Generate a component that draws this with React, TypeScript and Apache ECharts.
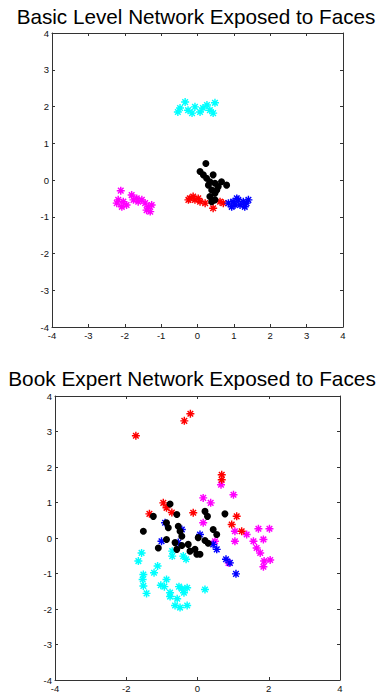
import React, { useEffect, useRef } from "react";
import * as echarts from "echarts";

// ---- Data: Basic Level Network Exposed to Faces ----
const basicCyan: [number, number][] = [
  [-0.48, 1.96], [-0.34, 2.12], [-0.26, 1.9], [-0.15, 1.82], [-0.07, 1.99], [0.07, 1.85],
  [0.15, 1.96], [0.26, 2.04], [0.34, 1.9], [0.43, 1.82], [0.48, 2.1], [-0.54, 1.85],
];
const basicMagenta: [number, number][] = [
  [-2.11, -0.29], [-2.18, -0.54], [-2.04, -0.59], [-2.08, -0.73], [-1.95, -0.68], [-1.81, -0.41],
  [-1.76, -0.54], [-1.63, -0.59], [-1.53, -0.54], [-1.44, -0.63], [-1.35, -0.73], [-1.26, -0.68],
  [-1.4, -0.82], [-1.3, -0.86], [-2.22, -0.63], [-1.67, -0.5],
];
const basicRed: [number, number][] = [
  [-0.21, -0.5], [-0.07, -0.54], [0.07, -0.59], [0.21, -0.63], [-0.12, -0.45], [-0.25, -0.54],
  [0.43, -0.77], [0.62, -0.59], [0.71, -0.63], [0.02, -0.5],
];
const basicBlue: [number, number][] = [
  [0.85, -0.63], [0.98, -0.59], [1.12, -0.54], [1.26, -0.59], [1.35, -0.63], [1.17, -0.68],
  [1.03, -0.68], [0.94, -0.73], [1.3, -0.73], [1.4, -0.54], [1.08, -0.5],
];
const basicBlack: [number, number][] = [
  [0.23, 0.45], [0.07, 0.23], [0.16, 0.14], [0.25, 0.05], [0.43, 0.14], [0.34, -0.05],
  [0.48, -0.09], [0.57, -0.18], [0.8, -0.14], [0.66, -0.05], [0.39, -0.27], [0.48, -0.36],
  [0.34, -0.45], [0.48, -0.54], [0.39, -0.59], [0.3, -0.14], [0.53, -0.27],
];

// ---- Data: Book Expert Network Exposed to Faces ----
const bookRed: [number, number][] = [
  [-1.73, 2.88], [-0.37, 3.3], [-0.2, 3.5], [0.68, 1.78], [0.68, 1.64], [-0.96, 0.99],
  [-0.87, 0.85], [-0.72, 0.72], [-1.35, 0.68], [-0.12, 0.71], [1.1, 0.61], [0.96, 0.38], [1.24, 0.19],
];
const bookMagenta: [number, number][] = [
  [0.66, 1.5], [0.16, 1.13], [0.37, 0.99], [1.01, 1.22], [0.16, 0.43], [1.05, 0.19], [1.38, 0.1],
  [1.71, 0.26], [2.02, 0.26], [1.85, -0.04], [1.57, -0.09], [1.05, -0.09], [0.49, -0.09],
  [1.66, -0.28], [1.76, -0.42], [1.87, -0.65], [2.04, -0.62], [1.85, -0.81], [0.87, -0.7],
];
const bookBlue: [number, number][] = [
  [-0.91, 0.43], [-0.44, 0.24], [-1.01, -0.09], [-0.54, -0.13], [0.07, 0.1], [0.44, -0.18],
  [0.54, -0.32], [0.8, -0.6], [0.91, -0.7], [1.08, -1.01],
];
const bookCyan: [number, number][] = [
  [-1.57, -0.42], [-1.66, -0.65], [-0.71, -0.37], [-0.71, -0.51], [-0.4, -0.51], [-0.32, -0.6],
  [-1.12, -0.79], [-1.52, -1.03], [-1.54, -1.17], [-1.22, -0.98], [-0.87, -1.17], [-1.52, -1.35],
  [-1.43, -1.56], [-1.03, -1.33], [-0.93, -1.37], [-0.52, -1.37], [-0.44, -1.43], [-0.29, -1.4],
  [-0.38, -1.54], [-0.77, -1.54], [-0.77, -1.65], [-0.57, -1.71], [0.21, -1.45], [-0.63, -1.9],
  [-0.49, -1.96], [-0.29, -1.9],
];
const bookBlack: [number, number][] = [
  [-0.77, 0.96], [-1.24, 0.61], [-0.58, 0.66], [0.21, 0.75], [0.28, 0.61], [0.77, 0.68],
  [-1.52, 0.19], [-0.87, 0.43], [-0.82, 0.29], [-0.54, 0.33], [-0.49, 0.19], [-0.44, 0.05],
  [0.44, 0.24], [0.54, 0.1], [-0.87, -0.04], [-0.63, -0.13], [-0.44, -0.21], [0.02, 0.01],
  [0.21, -0.07], [0.3, -0.15], [-1.1, -0.28], [-0.58, -0.32], [-0.26, -0.18], [-0.21, -0.37],
  [-0.07, -0.32], [0.07, -0.46], [-0.02, -0.46],
];

const titles = ["Basic Level Network Exposed to Faces", "Book Expert Network Exposed to Faces"];

const STAR =
  "path://M-1,-0.18L1,-0.18L1,0.18L-1,0.18Z M-0.18,-1L0.18,-1L0.18,1L-0.18,1Z M-0.573,-0.827L0.827,0.573L0.573,0.827L-0.827,-0.573Z M0.573,-0.827L0.827,-0.573L-0.573,0.827L-0.827,0.573Z";

const AXIS_COLOR = "#333";
const FONT = "Liberation Sans, Arial, sans-serif";

function mainAxis(grid: number, pos: string, interval: number) {
  return {
    type: "value",
    gridIndex: grid,
    position: pos,
    min: -4,
    max: 4,
    interval,
    axisLine: { show: true, onZero: false, lineStyle: { color: AXIS_COLOR, width: 1 } },
    axisTick: { show: true, inside: true, length: 3, lineStyle: { color: AXIS_COLOR } },
    axisLabel: { show: true, fontSize: 9.5, color: "#111", fontFamily: FONT, margin: 3 },
    splitLine: { show: false },
  };
}
function boxAxis(grid: number, pos: string, interval: number) {
  return {
    ...mainAxis(grid, pos, interval),
    axisLabel: { show: false },
  };
}

function star(name: string, data: [number, number][], color: string, idx: number) {
  return {
    name,
    type: "scatter",
    xAxisIndex: idx,
    yAxisIndex: idx,
    data,
    symbol: STAR,
    symbolSize: 8,
    itemStyle: { color, opacity: 1 },
  };
}
function dot(name: string, data: [number, number][], idx: number) {
  return {
    name,
    type: "scatter",
    xAxisIndex: idx,
    yAxisIndex: idx,
    data,
    symbol: "circle",
    symbolSize: 7,
    itemStyle: { color: "#000", opacity: 1 },
  };
}

export default function App() {
  const ref = useRef<HTMLDivElement>(null);
  useEffect(() => {
    if (!ref.current) return;
    const chart = echarts.init(ref.current, undefined, { renderer: "svg" });
    chart.setOption({
      animation: false,
      backgroundColor: "#fff",
      graphic: [
        {
          type: "text",
          x: 196,
          y: 16,
          style: {
            text: titles[0],
            fontSize: 20.7,
            fontFamily: FONT,
            fill: "#000",
            textAlign: "center",
            textVerticalAlign: "middle",
          },
        },
        {
          type: "text",
          x: 192,
          y: 378,
          style: {
            text: titles[1],
            fontSize: 20.8,
            fontFamily: FONT,
            fill: "#000",
            textAlign: "center",
            textVerticalAlign: "middle",
          },
        },
      ],
      grid: [
        { left: 52, top: 33, width: 291, height: 294 },
        { left: 55, top: 396, width: 285, height: 285 },
      ],
      xAxis: [
        mainAxis(0, "bottom", 1),
        mainAxis(1, "bottom", 2),
        boxAxis(0, "top", 1),
        boxAxis(1, "top", 2),
      ],
      yAxis: [
        mainAxis(0, "left", 1),
        mainAxis(1, "left", 1),
        boxAxis(0, "right", 1),
        boxAxis(1, "right", 1),
      ],
      series: [
        star("basicCyan", basicCyan, "#00FFFF", 0),
        star("basicMagenta", basicMagenta, "#FF00FF", 0),
        star("basicRed", basicRed, "#FF0000", 0),
        star("basicBlue", basicBlue, "#0000FF", 0),
        dot("basicBlack", basicBlack, 0),
        star("bookCyan", bookCyan, "#00FFFF", 1),
        star("bookMagenta", bookMagenta, "#FF00FF", 1),
        star("bookRed", bookRed, "#FF0000", 1),
        star("bookBlue", bookBlue, "#0000FF", 1),
        dot("bookBlack", bookBlack, 1),
      ],
    });
    return () => chart.dispose();
  }, []);
  return (
    <div
      ref={ref}
      style={{ position: "absolute", left: 0, top: 0, width: 379, height: 693, background: "#fff" }}
    />
  );
}
